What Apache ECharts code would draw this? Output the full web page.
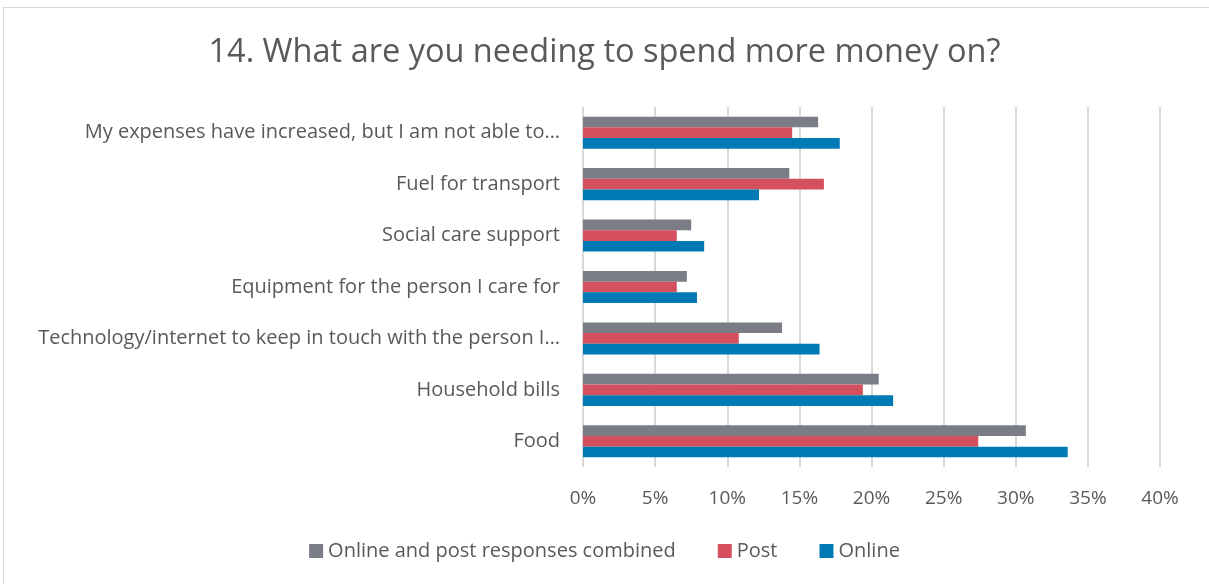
<!DOCTYPE html>
<html><head><meta charset="utf-8">
<script src="https://cdn.jsdelivr.net/npm/echarts@6/dist/echarts.min.js"></script>
<style>
html,body{margin:0;padding:0;background:#fff;}
#frame{position:absolute;left:3px;top:7px;width:1210px;height:580px;border:1px solid #d9d9d9;box-sizing:border-box;}
#c{position:absolute;left:0;top:0;width:1209px;height:584px;}
</style></head>
<body><div id="frame"></div><div id="c"></div>
<script>
const categories = ["Food","Household bills","Technology/internet to keep in touch with the person I…","Equipment for the person I care for","Social care support","Fuel for transport","My expenses have increased, but I am not able to…"];
const combined = [30.7, 20.5, 13.8, 7.2, 7.5, 14.3, 16.3];
const post = [27.4, 19.4, 10.8, 6.5, 6.5, 16.7, 14.5];
const online = [33.6, 21.5, 16.4, 7.9, 8.4, 12.2, 17.8];
const ticks = [0,5,10,15,20,25,30,35,40];
const F = 'Open Sans';
const chart = echarts.init(document.getElementById('c'));
chart.setOption({
  animation:false,
  title:{text:'14. What are you needing to spend more money on?',left:'center',top:31,textStyle:{fontFamily:F,fontSize:32.5,fontWeight:'normal',color:'#595959'}},
  legend:{data:['Online and post responses combined','Post','Online'],bottom:18,left:'center',itemWidth:14,itemHeight:14,itemGap:42,icon:'rect',textStyle:{fontFamily:F,fontSize:20,color:'#595959'}},
  grid:{left:583,right:49,top:107,bottom:117},
  xAxis:{type:'value',min:0,max:40,interval:5,axisLine:{show:false},axisTick:{show:false},
    axisLabel:{formatter:v=>v+'%',fontFamily:F,fontSize:19,color:'#595959',margin:22},
    splitLine:{lineStyle:{color:'#d9d9d9',width:2}}},
  yAxis:{type:'category',data:categories,axisLine:{show:false},axisTick:{show:false},
    axisLabel:{fontFamily:F,fontSize:20,color:'#595959',margin:23}},
  series:[
    {name:'Online and post responses combined',type:'bar',data:combined,barWidth:10.7,barGap:'0%',itemStyle:{color:'#7b7d86'}},
    {name:'Post',type:'bar',data:post,barWidth:10.7,barGap:'0%',itemStyle:{color:'#d4505e'}},
    {name:'Online',type:'bar',data:online,barWidth:10.7,barGap:'0%',itemStyle:{color:'#007ab4'}}
  ]
});
</script></body></html>
